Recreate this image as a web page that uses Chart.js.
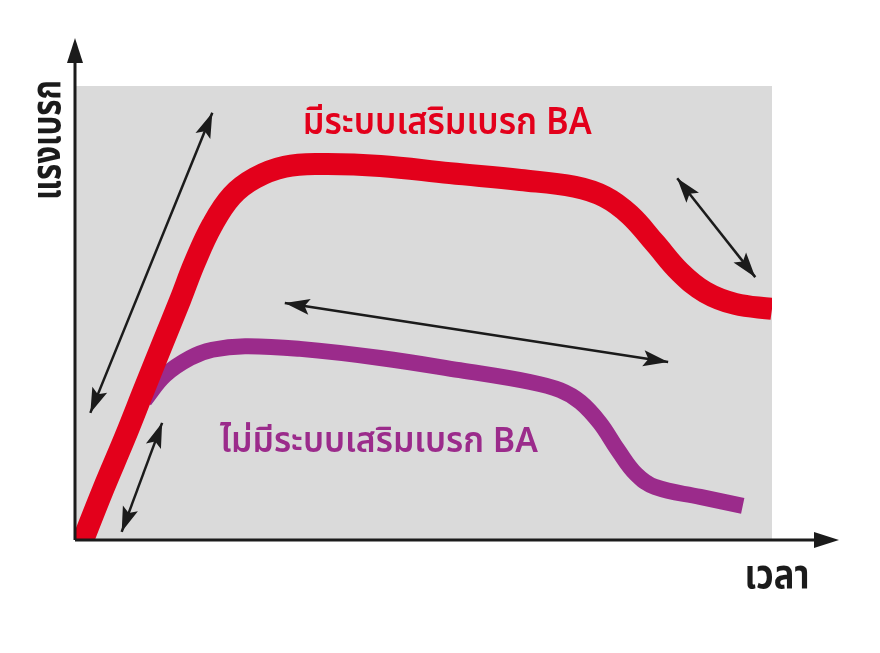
<!DOCTYPE html>
<html>
<head>
<meta charset="utf-8">
<script src="https://cdn.jsdelivr.net/npm/chart.js@4.4.1/dist/chart.umd.min.js"></script>
<style>
  html, body { margin: 0; padding: 0; background: #fff; }
  #wrap { width: 880px; height: 653px; }
</style>
</head>
<body>
<div id="wrap"><canvas id="brakeChart"></canvas></div>
<script>
// ----------------------
// DATA (time 0-100, brake force 0-100)
// ----------------------
const withBaTime  = [0.7, 4.0, 7.2, 10.0, 12.6, 15.1, 17.2, 19.7, 22.5, 25.8, 30.1, 35.2, 43.8, 53.8, 63.9, 71.7, 76.0, 79.6, 83.2, 86.8, 90.4, 94.7, 100];
const withBaForce = [-1.8, 11.0, 22.7, 33.5, 43.4, 52.9, 61.2, 69.4, 75.8, 79.7, 82.2, 82.8, 82.4, 80.8, 79.3, 77.8, 75.6, 71.6, 65.4, 59.0, 54.6, 52.0, 50.9];

const noBaTime  = [10.0, 12.9, 16.5, 19.7, 24.4, 32.3, 43.8, 55.2, 65.3, 69.6, 72.5, 75.3, 77.9, 80.5, 83.2, 89.7, 95.8];
const noBaForce = [30.8, 36.3, 40.1, 41.9, 42.7, 42.1, 40.1, 37.4, 34.8, 33.0, 30.4, 25.8, 19.8, 14.5, 11.7, 9.5, 7.5];

// double-headed arrows: [timeA, forceA, timeB, forceB]
const arrowRise    = [2.2, 28.0, 19.7, 94.1];
const arrowEarly   = [6.7, 1.8, 12.5, 25.8];
const arrowHold    = [30.1, 52.2, 85.1, 39.2];
const arrowRelease = [86.4, 79.7, 97.6, 57.9];

const labelWithBa = "มีระบบเสริมเบรก BA";
const labelNoBa   = "ไม่มีระบบเสริมเบรก BA";
const axisTitleX  = "เวลา";
const axisTitleY  = "แรงเบรก";

const RED = "#e3001b";
const PURPLE = "#9b2b8b";
const INK = "#1b1b1b";
const THAI_FONT = "'Noto Sans Thai', 'Noto Sans', Roboto, sans-serif";

// ----------------------
// HELPERS
// ----------------------
function zipPoints(xs, ys) {
  return xs.map((x, i) => ({ x, y: ys[i] }));
}

function arrowDataset(a) {
  return {
    data: [{ x: a[0], y: a[1] }, { x: a[2], y: a[3] }],
    borderColor: INK,
    borderWidth: 2.5,
    pointRadius: 0,
    tension: 0,
    isArrow: true
  };
}

function drawHead(ctx, fromX, fromY, tipX, tipY, len, half) {
  const ang = Math.atan2(tipY - fromY, tipX - fromX);
  ctx.save();
  ctx.translate(tipX, tipY);
  ctx.rotate(ang);
  ctx.beginPath();
  ctx.moveTo(0, 0);
  ctx.lineTo(-len, -half);
  ctx.lineTo(-len * 0.8, 0);
  ctx.lineTo(-len, half);
  ctx.closePath();
  ctx.fill();
  ctx.restore();
}

// text squeezed to a given width, drawn on its baseline
function fitText(ctx, text, x, y, width, rotate) {
  const w = ctx.measureText(text).width;
  ctx.save();
  ctx.translate(x, y);
  if (rotate) ctx.rotate(-Math.PI / 2);
  ctx.scale(width / w, 1);
  ctx.fillText(text, 0, 0);
  ctx.restore();
}

// ----------------------
// PLUGINS
// ----------------------
const panelPlugin = {
  id: "panel",
  beforeDatasetsDraw(chart) {
    const { ctx, chartArea: a } = chart;
    ctx.save();
    ctx.fillStyle = "#dadada";
    ctx.fillRect(a.left, a.top, a.right - a.left, a.bottom - a.top);
    ctx.restore();
  },
  afterDatasetsDraw(chart) {
    const { ctx, chartArea: a } = chart;
    ctx.save();
    ctx.fillStyle = INK;
    ctx.strokeStyle = INK;

    // arrow heads on the double arrows
    chart.data.datasets.forEach((ds, i) => {
      if (!ds.isArrow) return;
      const pts = chart.getDatasetMeta(i).data;
      const p0 = pts[0], p1 = pts[1];
      drawHead(ctx, p0.x, p0.y, p1.x, p1.y, 25, 8);
      drawHead(ctx, p1.x, p1.y, p0.x, p0.y, 25, 8);
    });

    // axes with arrows
    ctx.lineWidth = 3;
    ctx.beginPath();
    ctx.moveTo(a.left, a.bottom);
    ctx.lineTo(a.left, 50);
    ctx.moveTo(a.left, a.bottom);
    ctx.lineTo(828, a.bottom);
    ctx.stroke();
    ctx.beginPath();
    ctx.moveTo(a.left, 38);
    ctx.lineTo(a.left - 8, 63);
    ctx.lineTo(a.left + 8, 63);
    ctx.closePath();
    ctx.fill();
    ctx.beginPath();
    ctx.moveTo(839, a.bottom);
    ctx.lineTo(814, a.bottom - 8);
    ctx.lineTo(814, a.bottom + 8);
    ctx.closePath();
    ctx.fill();
    ctx.restore();
  },
  afterDraw(chart) {
    const { ctx, scales: { x, y } } = chart;
    ctx.save();
    ctx.textAlign = "center";
    ctx.textBaseline = "alphabetic";

    ctx.fillStyle = RED;
    ctx.font = "600 37px " + THAI_FONT;
    fitText(ctx, labelWithBa, x.getPixelForValue(53.4), y.getPixelForValue(89.4), 289, false);

    ctx.fillStyle = PURPLE;
    ctx.font = "600 35px " + THAI_FONT;
    fitText(ctx, labelNoBa, x.getPixelForValue(43.6), y.getPixelForValue(19.4), 318, false);

    ctx.fillStyle = INK;
    ctx.font = "700 40px " + THAI_FONT;
    fitText(ctx, axisTitleX, x.getPixelForValue(100.7), y.getPixelForValue(-10.6), 65, false);
    fitText(ctx, axisTitleY, x.getPixelForValue(-2.2), y.getPixelForValue(88.1), 120, true);
    ctx.restore();
  }
};

// ----------------------
// CHART
// ----------------------
const brakeCtx = document.getElementById("brakeChart").getContext("2d");

const brakeChart = new Chart(brakeCtx, {
  type: "line",
  data: {
    datasets: [
      {
        label: labelWithBa,
        data: zipPoints(withBaTime, withBaForce),
        borderColor: RED,
        borderWidth: 22,
        pointRadius: 0,
        tension: 0.4
      },
      {
        label: labelNoBa,
        data: zipPoints(noBaTime, noBaForce),
        borderColor: PURPLE,
        borderWidth: 16,
        pointRadius: 0,
        tension: 0.4
      },
      arrowDataset(arrowRise),
      arrowDataset(arrowEarly),
      arrowDataset(arrowHold),
      arrowDataset(arrowRelease)
    ]
  },
  options: {
    responsive: true,
    maintainAspectRatio: false,
    animation: false,
    devicePixelRatio: 1,
    layout: { padding: { left: 75, right: 108, top: 86, bottom: 113 } },
    plugins: {
      legend: { display: false },
      tooltip: { enabled: false }
    },
    scales: {
      x: { type: "linear", min: 0, max: 100, display: false },
      y: { type: "linear", min: 0, max: 100, display: false }
    }
  },
  plugins: [panelPlugin]
});
</script>
</body>
</html>
